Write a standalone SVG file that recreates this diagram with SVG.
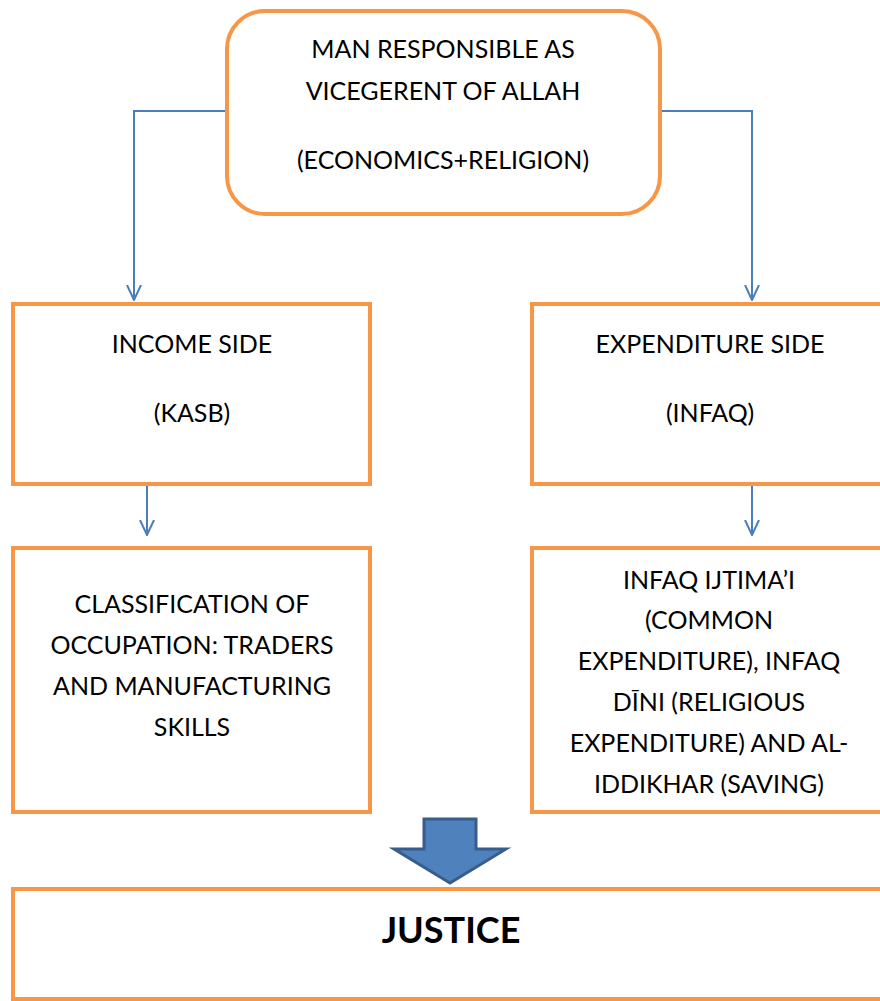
<svg xmlns="http://www.w3.org/2000/svg" width="880" height="1001" viewBox="0 0 880 1001">
<style>
.box{fill:#fff;stroke:#F79646;stroke-width:4}
.t{font-family:Lato,"Liberation Sans",sans-serif;font-size:25px;fill:#000;text-anchor:middle}
.b{font-weight:bold;font-size:36px}
.c{fill:none;stroke:#4A7EBB;stroke-width:2}
</style>
<defs>
<marker id="ah" markerWidth="16" markerHeight="16" viewBox="0 0 16 16" refX="15" refY="8" orient="auto" markerUnits="userSpaceOnUse">
<path d="M0,1 L15,8 L0,15" fill="none" stroke="#4A7EBB" stroke-width="2"/>
</marker>
</defs>
<g id="connectors">
<path class="c" d="M227,111 H134 V300" marker-end="url(#ah)"/>
<path class="c" d="M660,111 H752 V300" marker-end="url(#ah)"/>
<path class="c" d="M147,484 V535" marker-end="url(#ah)"/>
<path class="c" d="M752,484 V535" marker-end="url(#ah)"/>
<path d="M424,819 H476 V849 H506 L450,883 L394,849 H424 Z" fill="#4F81BD" stroke="#385D8A" stroke-width="3" stroke-linejoin="miter"/>
</g>
<g id="top">
<rect class="box" x="227" y="11" width="433" height="203" rx="38"/>
<text class="t" x="443" y="58">MAN RESPONSIBLE AS</text>
<text class="t" x="443" y="100">VICEGERENT OF ALLAH</text>
<text class="t" x="443" y="169">(ECONOMICS+RELIGION)</text>
</g>
<g id="income">
<rect class="box" x="13" y="304" width="357" height="180"/>
<text class="t" x="192" y="353">INCOME SIDE</text>
<text class="t" x="192" y="422">(KASB)</text>
</g>
<g id="expenditure">
<rect class="box" x="532" y="304" width="360" height="180"/>
<text class="t" x="710" y="353">EXPENDITURE SIDE</text>
<text class="t" x="710" y="422">(INFAQ)</text>
</g>
<g id="classification">
<rect class="box" x="13" y="548" width="357" height="264"/>
<text class="t" x="192" y="613">CLASSIFICATION OF</text>
<text class="t" x="192" y="654">OCCUPATION: TRADERS</text>
<text class="t" x="192" y="695">AND MANUFACTURING</text>
<text class="t" x="192" y="736">SKILLS</text>
</g>
<g id="infaq">
<rect class="box" x="532" y="548" width="360" height="264"/>
<text class="t" x="709" y="589">INFAQ IJTIMA’I</text>
<text class="t" x="709" y="629">(COMMON</text>
<text class="t" x="709" y="670">EXPENDITURE), INFAQ</text>
<text class="t" x="709" y="711">DĪNI (RELIGIOUS</text>
<text class="t" x="709" y="752">EXPENDITURE) AND AL-</text>
<text class="t" x="709" y="793">IDDIKHAR (SAVING)</text>
</g>
<g id="justice">
<rect class="box" x="13" y="889" width="880" height="110"/>
<text class="t b" x="451" y="943">JUSTICE</text>
</g>
</svg>
